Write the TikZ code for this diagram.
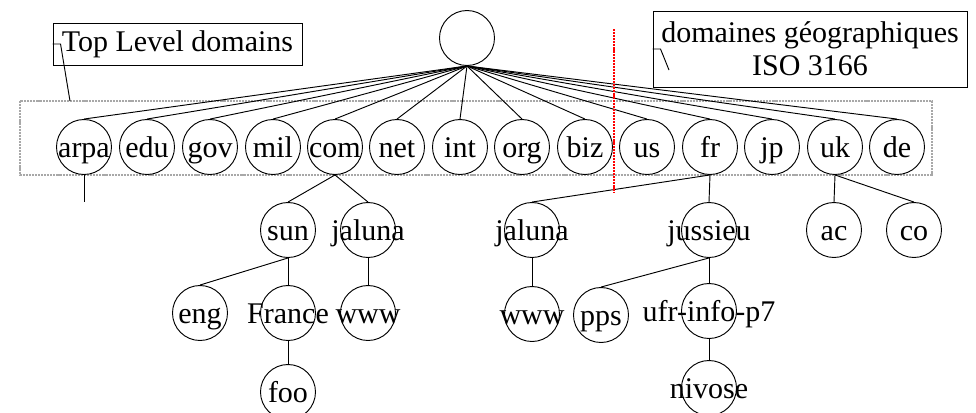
\documentclass[tikz,border=0pt]{standalone}
\usepackage{fontspec}
\setmainfont{Liberation Serif}
\usepackage{mathtools}

\tikzset{
  dom/.style={draw,circle,minimum size=41.25pt,inner sep=0pt,text height=16pt,text depth=1pt,font=\fontsize{22.5}{26}\selectfont},
  note/.style={draw,inner sep=0pt,align=center,font=\fontsize{22.5}{25}\selectfont},
  grp/.style={draw={rgb,255:red,168;green,168;blue,168},line width=2.2pt,dash pattern=on 1.6pt off 0.7pt},
  cut/.style={draw=red,line width=2.2pt,dash pattern=on 1.6pt off 0.7pt}
}

\begin{document}
\begin{tikzpicture}[x=0.75pt,y=0.75pt,yscale=-1,xscale=1,line width=0.7pt]
\useasboundingbox (0,0) rectangle (976,412);

%Shape: Rectangle [top level group]
\draw[grp] (20,101) rectangle (932,175);

%Root
\node[dom] (root) at (467,38) {};

%Top level
\node[dom] (arpa) at (84,147) {\clap{arpa}};
\node[dom] (edu) at (147,147) {\clap{edu}};
\node[dom] (gov) at (210,147) {\clap{gov}};
\node[dom] (mil) at (273,147) {\clap{mil}};
\node[dom] (com) at (335,147) {\clap{com}};
\node[dom] (net) at (397,147) {\clap{net}};
\node[dom] (int) at (460,147) {\clap{int}};
\node[dom] (org) at (522,147) {\clap{org}};
\node[dom] (biz) at (585,147) {\clap{biz}};
\node[dom] (us) at (647,147) {\clap{us}};
\node[dom] (fr) at (710,147) {\clap{fr}};
\node[dom] (jp) at (772,147) {\clap{jp}};
\node[dom] (uk) at (835,147) {\clap{uk}};
\node[dom] (de) at (897,147) {\clap{de}};

%Second level
\node[dom] (sun) at (288,230) {\clap{sun}};
\node[dom] (comjaluna) at (368,230) {\clap{jaluna}};
\node[dom] (frjaluna) at (532,230) {\clap{jaluna}};
\node[dom] (jussieu) at (709,230) {\clap{jussieu}};
\node[dom] (ac) at (834,230) {\clap{ac}};
\node[dom] (co) at (914,230) {\clap{co}};

%Third level
\node[dom] (eng) at (200,313) {\clap{eng}};
\node[dom] (france) at (288,313) {\clap{France}};
\node[dom] (comwww) at (368,313) {\clap{www}};
\node[dom] (frwww) at (532,314) {\clap{www}};
\node[dom] (pps) at (601,315) {\clap{pps}};
\node[dom] (ufr) at (709,311) {\clap{ufr-info-p7}};

%Fourth level
\node[dom] (foo) at (288,392) {\clap{foo}};
\node[dom] (nivose) at (709,388) {\clap{nivose}};

%Straight Lines from root
\draw (root.south) -- (arpa.north);
\draw (root.south) -- (edu.north);
\draw (root.south) -- (gov.north);
\draw (root.south) -- (mil.north);
\draw (root.south) -- (com.north);
\draw (root.south) -- (net.north);
\draw (root.south) -- (int.north);
\draw (root.south) -- (org.north);
\draw (root.south) -- (biz.north);
\draw (root.south) -- (us.north);
\draw (root.south) -- (fr.north);
\draw (root.south) -- (jp.north);
\draw (root.south) -- (uk.north);
\draw (root.south) -- (de.north);

%Straight Lines below
\coordinate (arpaend) at (84,202);
\draw (arpa.south) -- (arpaend);
\draw (com.south) -- (sun.north);
\draw (com.south) -- (comjaluna.north);
\draw (sun.south) -- (eng.north);
\draw (sun.south) -- (france.north);
\draw (france.south) -- (foo.north);
\draw (comjaluna.south) -- (comwww.north);
\draw (fr.south) -- (frjaluna.north);
\draw (fr.south) -- (jussieu.north);
\draw (frjaluna.south) -- (frwww.north);
\draw (jussieu.south) -- (pps.north);
\draw (jussieu.south) -- (ufr.north);
\draw (ufr.south) -- (nivose.north);
\draw (uk.south) -- (ac.north);
\draw (uk.south) -- (co.north);

% Text Node
\node[note,minimum width=186.75pt,minimum height=31.5pt] (tld) at (177.5,44) {Top Level domains};
\coordinate (tldend) at (70,101);
\draw (tld.west) -- ++(8,0) -- (tldend);

% Text Node
\node[note,minimum width=235.5pt,minimum height=57pt] (geo) at (810,49) {domaines géographiques\\ISO 3166};
\coordinate (geoend) at (669,70);
\draw (geo.west) -- ++(8,0) -- (geoend);

%Straight Lines [separator]
\draw[cut] (614,29) -- (614,193);

\end{tikzpicture}
\end{document}
